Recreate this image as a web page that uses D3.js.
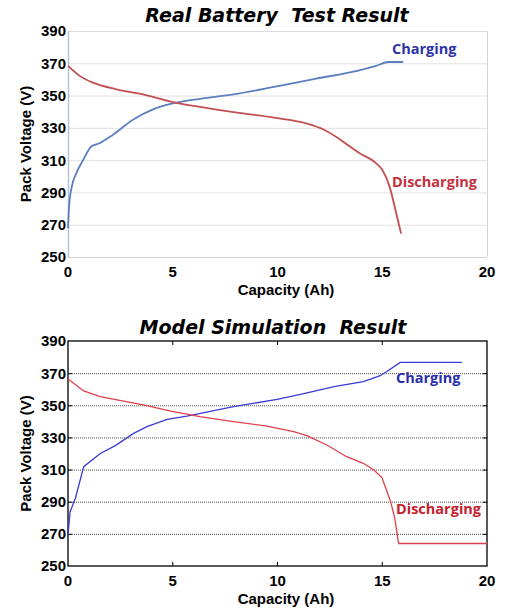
<!DOCTYPE html>
<html>
<head>
<meta charset="utf-8">
<script src="https://cdn.jsdelivr.net/npm/d3@7"></script>
<style>
  body { margin: 0; background: #fff; }
  svg { display: block; }
</style>
</head>
<body>
<div id="chart"></div>
<script>
// measured test data (top panel)
const testChargeCap = [0, 0.05, 0.18, 0.4, 0.72, 1.11, 1.5, 2.15, 3.1, 4.06, 5.0, 6.3, 7.9, 9.9, 11.85, 13.8, 14.7, 15.3, 16.0];
const testChargeV   = [268, 281, 293.5, 302, 310, 318.5, 320.5, 325.8, 335, 341.4, 345.1, 348, 350.7, 355.5, 360.5, 365.3, 368.4, 370.8, 370.8];
const testDischCap  = [0, 0.56, 1.19, 2.3, 3.58, 5.0, 6.3, 7.9, 9.9, 11.4, 12.2, 13.0, 13.9, 14.7, 15.0, 15.35, 15.67, 15.9];
const testDischV    = [368.4, 362.2, 358, 353.9, 350.7, 346, 343, 339.7, 336.2, 332.7, 329, 322.7, 314.4, 308.2, 304, 293.6, 277, 264.5];

// simulation data (bottom panel)
const simChargeCap = [0, 0.1, 0.35, 0.75, 1.54, 2.26, 3.13, 3.77, 4.73, 5.68, 7.9, 9.98, 11.1, 12.7, 14.1, 14.9, 15.2, 15.86, 18.8];
const simChargeV   = [269.3, 283.8, 292, 311.8, 320, 324.9, 332.5, 336.7, 341.2, 343.3, 349.1, 353.7, 356.8, 361.6, 364.7, 368.4, 370.9, 376.7, 376.7];
const simDischCap  = [0, 0.75, 1.54, 2.34, 3.6, 4.9, 6.3, 7.9, 9.5, 10.77, 11.4, 12.36, 13.3, 14.1, 14.6, 14.99, 15.4, 15.6, 15.78, 20];
const simDischV    = [366.3, 358.9, 355.4, 353.3, 350.2, 346.4, 342.9, 339.8, 337.1, 333.6, 331.1, 325.3, 318, 313.9, 309.7, 304.9, 290, 279.6, 264, 264];

const xTicks = [0, 5, 10, 15, 20];
const yTicks = [250, 270, 290, 310, 330, 350, 370, 390];

const W = 509, H = 613;
const svg = d3.select('#chart').append('svg').attr('width', W).attr('height', H);

const zip = (xs, ys) => xs.map((x, i) => [x, ys[i]]);

function panel(opt) {
  const x = d3.scaleLinear().domain([0, 20]).range([68, 487]);
  const y = d3.scaleLinear().domain([250, 390]).range([opt.bottom, opt.top]);
  const g = svg.append('g');

  // title
  g.append('text')
    .attr('x', opt.titleX).attr('y', opt.titleY)
    .attr('text-anchor', 'middle')
    .style('font-family', 'DejaVu Sans')
    .style('font-weight', 'bold').style('font-style', 'italic')
    .style('font-size', '19px')
    .attr('xml:space', 'preserve')
    .text(opt.title);

  // grid
  g.append('g').selectAll('line')
    .data(yTicks.slice(1, -1))
    .enter().append('line')
    .attr('x1', x(0)).attr('x2', x(20))
    .attr('y1', d => y(d) + 0.5).attr('y2', d => y(d) + 0.5)
    .attr('stroke', opt.sim ? '#4a4a4a' : '#e2e2e2')
    .attr('stroke-width', 1)
    .attr('stroke-dasharray', opt.sim ? '1,1' : null);

  // frame
  if (opt.sim) {
    g.append('rect')
      .attr('x', x(0)).attr('y', y(390))
      .attr('width', x(20) - x(0)).attr('height', y(250) - y(390))
      .attr('fill', 'none').attr('stroke', '#000').attr('stroke-width', 1.3);
    // inner ticks
    const tl = 4;
    g.append('g').selectAll('line').data(xTicks.slice(1, -1)).enter().append('line')
      .attr('x1', d => x(d)).attr('x2', d => x(d))
      .attr('y1', y(390)).attr('y2', y(390) + tl).attr('stroke', '#000');
    g.append('g').selectAll('line').data(xTicks.slice(1, -1)).enter().append('line')
      .attr('x1', d => x(d)).attr('x2', d => x(d))
      .attr('y1', y(250)).attr('y2', y(250) - tl).attr('stroke', '#000');
    g.append('g').selectAll('line').data(yTicks.slice(1, -1)).enter().append('line')
      .attr('x1', x(20)).attr('x2', x(20) - tl)
      .attr('y1', d => y(d) + 0.5).attr('y2', d => y(d) + 0.5).attr('stroke', '#000');
    g.append('g').selectAll('line').data(yTicks.slice(1, -1)).enter().append('line')
      .attr('x1', x(0)).attr('x2', x(0) + tl)
      .attr('y1', d => y(d) + 0.5).attr('y2', d => y(d) + 0.5).attr('stroke', '#000');
  } else {
    g.append('line').attr('x1', x(0)).attr('x2', x(20)).attr('y1', y(390) + 0.5).attr('y2', y(390) + 0.5).attr('stroke', '#dcdcdc');
    g.append('line').attr('x1', x(20) + 0.5).attr('x2', x(20) + 0.5).attr('y1', y(390)).attr('y2', y(250)).attr('stroke', '#d4d4d4');
    g.append('line').attr('x1', x(0)).attr('x2', x(20)).attr('y1', y(250) + 0.5).attr('y2', y(250) + 0.5).attr('stroke', '#cfcfcf');
    g.append('line').attr('x1', x(0) + 0.5).attr('x2', x(0) + 0.5).attr('y1', y(390)).attr('y2', y(250)).attr('stroke', '#b4c4d8').attr('stroke-width', 1.5);
  }

  // axes labels
  g.append('g').selectAll('text').data(yTicks).enter().append('text')
    .attr('x', 66).attr('y', d => y(d)).attr('dy', '0.36em')
    .attr('text-anchor', 'end')
    .style('font-family', 'Liberation Sans').style('font-weight', 'bold').style('font-size', '15px')
    .text(d => d);
  g.append('g').selectAll('text').data(xTicks).enter().append('text')
    .attr('x', d => x(d)).attr('y', y(250) + 20)
    .attr('text-anchor', 'middle')
    .style('font-family', 'Liberation Sans').style('font-weight', 'bold').style('font-size', '15px')
    .text(d => d);
  g.append('text')
    .attr('x', 286).attr('y', y(250) + 38)
    .attr('text-anchor', 'middle')
    .style('font-family', 'Liberation Sans').style('font-weight', 'bold').style('font-size', '15px')
    .text('Capacity (Ah)');
  g.append('text')
    .attr('transform', `translate(31, ${(y(250) + y(390)) / 2}) rotate(-90)`)
    .attr('text-anchor', 'middle')
    .style('font-family', 'Liberation Sans').style('font-weight', 'bold').style('font-size', '15px')
    .text('Pack Voltage (V)');

  // curves
  const line = d3.line()
    .x(d => x(d[0])).y(d => y(d[1]))
    .curve(opt.sim ? d3.curveLinear : d3.curveMonotoneX);
  g.append('path').datum(opt.charge)
    .attr('d', line).attr('fill', 'none')
    .attr('stroke', opt.chargeColor).attr('stroke-width', opt.sim ? 1.3 : 1.8);
  g.append('path').datum(opt.disch)
    .attr('d', line).attr('fill', 'none')
    .attr('stroke', opt.dischColor).attr('stroke-width', opt.sim ? 1.3 : 1.8);

  // curve labels
  g.append('text')
    .attr('x', opt.chargeLbl[0]).attr('y', opt.chargeLbl[1])
    .style('font-family', 'Open Sans').style('font-weight', 'bold').style('font-size', '14.5px')
    .attr('fill', opt.chargeText).text('Charging');
  g.append('text')
    .attr('x', opt.dischLbl[0]).attr('y', opt.dischLbl[1])
    .style('font-family', 'Open Sans').style('font-weight', 'bold').style('font-size', '14.5px')
    .attr('fill', opt.dischText).text('Discharging');
}

panel({
  title: 'Real Battery  Test Result', titleX: 277, titleY: 22,
  top: 31, bottom: 257, sim: false,
  charge: zip(testChargeCap, testChargeV), disch: zip(testDischCap, testDischV),
  chargeColor: '#5b7fbf', dischColor: '#c24f52',
  chargeText: '#2c33a6', dischText: '#c2323f',
  chargeLbl: [392, 54], dischLbl: [392, 187]
});

panel({
  title: 'Model Simulation  Result', titleX: 273, titleY: 334,
  top: 341, bottom: 566, sim: true,
  charge: zip(simChargeCap, simChargeV), disch: zip(simDischCap, simDischV),
  chargeColor: '#3a3ad6', dischColor: '#e0404c',
  chargeText: '#2a2fae', dischText: '#c4202e',
  chargeLbl: [396, 383], dischLbl: [396, 514]
});
</script>
</body>
</html>
